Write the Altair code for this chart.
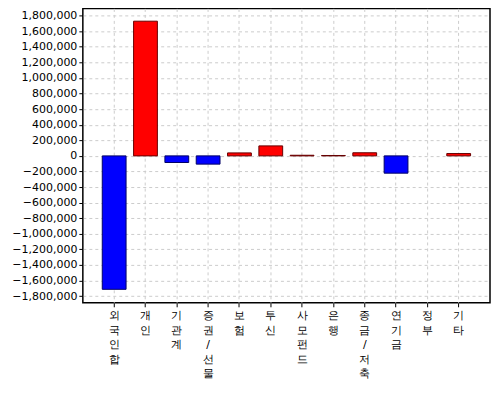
import altair as alt
import pandas as pd

categories = ["외국인합", "개인", "기관계", "증권/선물", "보험", "투신", "사모펀드", "은행", "종금/저축", "연기금", "정부", "기타"]
values = [-1712000, 1728000, -85000, -106000, 38000, 128000, 8000, 5000, 40000, -222000, 0, 30000]
y_ticks = list(range(-1800000, 1800001, 200000))

df = pd.DataFrame({"category": categories, "value": values})

FONT = "DejaVu Sans"

chart = alt.Chart(df).mark_bar(strokeWidth=1).encode(
    x=alt.X(
        "category:N",
        sort=categories,
        scale=alt.Scale(paddingInner=0.24, paddingOuter=0.62),
        axis=alt.Axis(
            title=None,
            labelAngle=0,
            labelExpr="split(datum.label, '')",
            labelLineHeight=14.5,
            labelFont=FONT,
            labelFontSize=11,
            labelColor="#000000",
            labelBaseline="top",
            labelPadding=3,
            tickSize=4,
            tickColor="#000000",
            domain=False,
            grid=True,
            gridColor="#cccccc",
            gridDash=[3, 3],
            bandPosition=0.5,
        ),
    ),
    y=alt.Y(
        "value:Q",
        scale=alt.Scale(domain=[-1885000, 1892000], nice=False, zero=False),
        axis=alt.Axis(
            title=None,
            values=y_ticks,
            format=",d",
            labelFont=FONT,
            labelFontSize=11,
            labelColor="#000000",
            labelPadding=2,
            tickSize=4,
            tickColor="#000000",
            domain=False,
            grid=True,
            gridColor="#cccccc",
            gridDash=[3, 3],
        ),
    ),
    fill=alt.condition(alt.datum.value >= 0, alt.value("#ff0000"), alt.value("#0000ff")),
    stroke=alt.condition(alt.datum.value >= 0, alt.value("#660000"), alt.value("#000066")),
    strokeOpacity=alt.condition(alt.datum.value == 0, alt.value(0), alt.value(1)),
).properties(
    width=408,
    height=295,
    autosize=alt.AutoSizeParams(type="none"),
    padding={"left": 75, "top": 0, "right": 2, "bottom": 100},
).configure_view(
    stroke="#000000",
    strokeWidth=1.5,
)

chart.save("out.html", embed_options={"renderer": "svg", "actions": False})
